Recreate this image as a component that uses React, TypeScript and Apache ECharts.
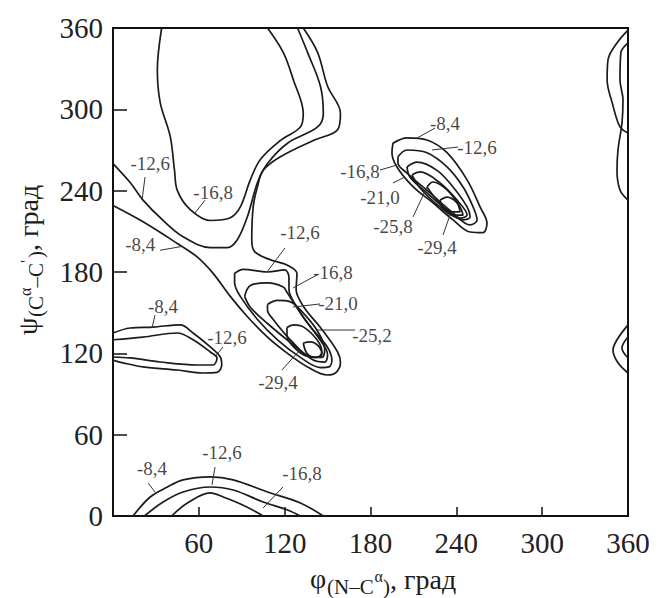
import React, { useEffect, useRef } from "react";
import * as echarts from "echarts";

// ---- axis ticks ----
const phiTicks = [0, 60, 120, 180, 240, 300, 360];
const psiTicks = [0, 60, 120, 180, 240, 300, 360];

// ---- contour lines, points are [phi, psi] in degrees ----
// big region, upper left
const upperLeft168 = [[34,360],[31,329],[33,305],[40,280],[43,255],[45,240],[54,226],[68,218],[82,220],[89,228],[96,248],[103,263],[117,277],[131,287],[133,297],[126,322],[119,342],[108,360]];
const upperLeft126 = [[0,260],[12,246],[21,233],[35,218],[49,206],[68,198],[80,198],[87,204],[94,221],[101,246],[108,260],[122,275],[143,287],[147,297],[145,317],[136,342],[129,360]];
const upperLeft84 = [[0,229],[21,217],[45,201],[59,191],[70,179],[82,162],[94,147],[108,132],[122,120],[136,110],[150,104],[156,106],[159,113],[157,121],[145,139],[133.5,154],[128,167],[128.6,179],[122,185],[110,189],[99,195],[97,204],[98,228],[101,243],[105,255],[117,265],[140,277],[157,285],[159,297],[150,317],[143,342],[133,360]];

// central minimum
const centre126 = [[85,179],[91,182],[108,180],[120,181.5],[123,176],[123,167],[128.6,154],[138.4,139],[149.6,125],[153,115],[151,110],[145,109.5],[131,117],[115,130],[101,145],[89,162],[85,172],[85,179]];
const centre168 = [[92,162],[96,170],[108,172],[119,169],[121.6,165],[132.8,147],[144.7,130],[150,119],[148,113.5],[140,115],[124,128],[108,142],[96,154],[92,162]];
const centre210 = [[108,156],[115,159],[124,158],[131,152],[142.6,137],[148,123],[146,117],[138,117.5],[124,130],[112,145],[108,152],[108,156]];
const centre252 = [[121.6,139],[126,141],[133,139.5],[142.6,130],[146,121],[142.6,117],[133,119],[124,127.5],[121.6,133.5],[121.6,139]];
const centre294 = [[133,127.6],[137.7,128.4],[144,125],[146,119],[141,117],[135.6,120],[133,127.6]];

// upper-right minimum
const right84 = [[195.7,275],[205.5,279],[219.5,277.4],[233.5,268],[247.5,248],[256.6,228],[261.4,216],[258.6,209],[249.6,209.5],[237.7,218.4],[223.7,231],[209.7,243],[198.5,257.5],[195,268],[195.7,275]];
const right126 = [[199.2,265],[205.5,270],[219.5,268],[233.5,257.5],[244.7,242.7],[251.7,228],[254.5,218.4],[249.6,214.7],[237.7,223.5],[221.6,238.3],[205.5,253],[199.2,260.4],[199.2,265]];
const right168 = [[205.5,257.5],[212.5,261],[226.5,255],[237.7,242.7],[247.5,228],[249.6,220.6],[244.7,218.4],[233.5,225.7],[219.5,238.3],[207.6,250],[205.5,257.5]];
const right210 = [[209,251.6],[214.6,253.8],[228.6,245.7],[240.5,233],[247.5,222],[242.6,219.8],[228.6,228],[214.6,242],[209,251.6]];
const right258 = [[219.5,242.7],[223.7,246.4],[233.5,240.5],[242.6,228],[244.7,222],[237.7,222],[226.5,233],[219.5,242.7]];
const right294 = [[228.6,233],[233.5,235.3],[240.5,231],[242.6,224.3],[237,224.3],[230.7,228],[228.6,233]];

// left island
const island84 = [[0,135],[12,138.7],[28,139.4],[47,141],[56,135],[68,124.7],[75,117.3],[76,111.4],[72.7,106],[63,105.5],[45,107.7],[21,110],[7,113],[0,115]];
const island126 = [[0,130],[21,132],[45,135],[56,130],[68,121],[72.7,116.6],[70,111.4],[59,111.4],[33,113.6],[12,116.6],[0,117.3]];

// bottom arcs
const bottom84 = [[14,0],[26,14],[38,21.4],[49,26.6],[68,28.8],[84,26.6],[108,17.7],[131,9.6],[147,0]];
const bottom126 = [[22,0],[35,10.3],[49,17.7],[68,21.4],[84,19.2],[105,10.3],[122,4.4],[131,0]];
const bottom168 = [[41,0],[52,9.6],[68,17],[77,14],[91,8],[105,0]];

// right edge
const edgeTopA = [[360,358.5],[352.3,349],[346,336.4],[345.4,321.6],[349,304.7],[354.4,287],[360,282.6]];
const edgeTopB = [[360,349],[355,341.6],[354.4,321.6],[356.5,307],[355.8,290],[353,270],[352.3,255],[354.4,240.5],[360,233]];
const edgeSmallOuter = [[360,141],[352.3,130],[349.5,122.5],[353,113],[360,105.5]];
const edgeSmallInner = [[360,132],[355.8,124],[360,116.6]];

const contourLines = [
  upperLeft168, upperLeft126, upperLeft84,
  centre126, centre168, centre210, centre252, centre294,
  right84, right126, right168, right210, right258, right294,
  island84, island126, bottom84, bottom126, bottom168,
  edgeTopA, edgeTopB, edgeSmallOuter, edgeSmallInner,
];

// ---- level labels: [text, phi, psi] ----
const levelLabels: [string, number, number][] = [
  ["-12,6", 26, 260.4], ["-16,8", 70, 239], ["-8,4", 19, 200],
  ["-12,6", 130.7, 208.8], ["-16,8", 153.8, 180], ["-21,0", 157.3, 157.1],
  ["-25,2", 181, 132.8], ["-29,4", 115.3, 98.8],
  ["-8,4", 35, 154.2], ["-12,6", 79.7, 132],
  ["-8,4", 27.3, 35.4], ["-12,6", 76.2, 46.5], ["-16,8", 132.1, 31.7],
  ["-8,4", 232.1, 289.9], ["-12,6", 254.5, 272.2], ["-16,8", 172.7, 253.8],
  ["-21,0", 186.6, 235.3], ["-25,8", 195.7, 213.2], ["-29,4", 226.5, 198.4],
];

// ---- leader lines: [[phi1, psi1], [phi2, psi2]] ----
const leaderLines = [
  [[22.4,250],[20.3,233]], [[64.3,233],[57.3,223.5]], [[32.9,196],[48.9,199]],
  [[120.2,197.7],[107.6,180]], [[142.6,177.8],[125.8,168.2]], [[144.7,156.4],[125.8,154.2]],
  [[169.2,137.2],[142.6,137.2]], [[118.1,107.7],[130.7,122.5]],
  [[29.4,148.3],[27.3,138.7]], [[76.9,124.7],[71.3,117.3]],
  [[24.5,24.3],[29.4,17.7]], [[71.3,36.1],[69.2,22.9]], [[118.8,21.4],[104.9,5.9]],
  [[225.1,286.2],[212.5,278.8]], [[241.2,272.2],[223,270]], [[186.6,255.2],[198.5,258.9]],
  [[195.7,245.7],[204.1,250.1]], [[209.7,220.6],[219.5,242.7]], [[230.7,207.3],[235.6,222]],
];

const INK = "#1b1b1b";
const SERIF = "'Liberation Serif', 'DejaVu Serif', serif";

export default function App() {
  const ref = useRef<HTMLDivElement>(null);
  useEffect(() => {
    if (!ref.current) return;
    const chart = echarts.init(ref.current, undefined, { renderer: "svg" });

    const series: any[] = [];
    contourLines.forEach((pts) => {
      series.push({
        type: "line",
        data: pts,
        smooth: 0.35,
        symbol: "none",
        silent: true,
        lineStyle: { color: INK, width: 1.7 },
        z: 3,
      });
    });
    leaderLines.forEach((seg) => {
      series.push({
        type: "line",
        data: seg,
        symbol: "none",
        silent: true,
        lineStyle: { color: "#333", width: 1 },
        z: 3,
      });
    });
    series.push({
      type: "scatter",
      data: levelLabels.map((l) => ({ name: l[0], value: [l[1], l[2]] })),
      symbolSize: 1,
      itemStyle: { color: "transparent" },
      silent: true,
      label: {
        show: true,
        position: "inside",
        formatter: "{b}",
        fontFamily: SERIF,
        fontSize: 19,
        color: "#141414",
      },
      z: 5,
    });

    const sub = 21, main = 28, sup = 16;
    const t = (text: string, x: number, y: number, size: number) => ({
      type: "text",
      x,
      y,
      style: { text, fontSize: size, fontFamily: SERIF, fill: INK, textVerticalAlign: "middle" },
    });
    const xTitle = {
      type: "group",
      x: 310,
      y: 578,
      children: [
        t("φ", 0, 0, main),
        t("(N–C", 17, 9, sub),
        t("α", 64.5, -2, sup),
        t(")", 73, 9, sub),
        t(", град", 80, 1, main),
      ],
    };
    const yTitle = {
      type: "group",
      x: 27,
      y: 335,
      rotation: Math.PI / 2,
      children: [
        t("ψ", 0, 0, main),
        t("(C", 18, 9, sub),
        t("α", 39, -2, sup),
        t("–C", 47.5, 9, sub),
        t("'", 72, -1, sup),
        t(")", 77, 9, sub),
        t(", град", 84, 1, main),
      ],
    };

    chart.setOption({
      animation: false,
      backgroundColor: "#ffffff",
      grid: {
        left: 113,
        top: 28,
        width: 515,
        height: 488,
        show: true,
        borderColor: "#111",
        borderWidth: 2,
        backgroundColor: "transparent",
      },
      xAxis: {
        type: "value",
        min: phiTicks[0],
        max: phiTicks[phiTicks.length - 1],
        interval: 60,
        axisLine: { show: true, onZero: false, lineStyle: { color: "#111", width: 2 } },
        axisTick: { show: true, inside: true, length: 9, lineStyle: { color: "#111", width: 1.5 } },
        axisLabel: {
          showMinLabel: false,
          margin: 12,
          fontFamily: SERIF,
          fontSize: 29,
          color: "#222",
          formatter: (v: number) => (phiTicks.includes(v) ? String(v) : ""),
        },
        splitLine: { show: false },
      },
      yAxis: {
        type: "value",
        min: psiTicks[0],
        max: psiTicks[psiTicks.length - 1],
        interval: 60,
        axisLine: { show: true, onZero: false, lineStyle: { color: "#111", width: 2 } },
        axisTick: { show: true, inside: true, length: 14, lineStyle: { color: "#111", width: 1.5 } },
        axisLabel: {
          margin: 10,
          fontFamily: SERIF,
          fontSize: 29,
          color: "#222",
          formatter: (v: number) => (psiTicks.includes(v) ? String(v) : ""),
        },
        splitLine: { show: false },
      },
      graphic: [xTitle, yTitle],
      series,
    });
    return () => chart.dispose();
  }, []);
  return (
    <div
      ref={ref}
      style={{ position: "fixed", left: 0, top: 0, width: 665, height: 598, background: "#fff" }}
    />
  );
}
